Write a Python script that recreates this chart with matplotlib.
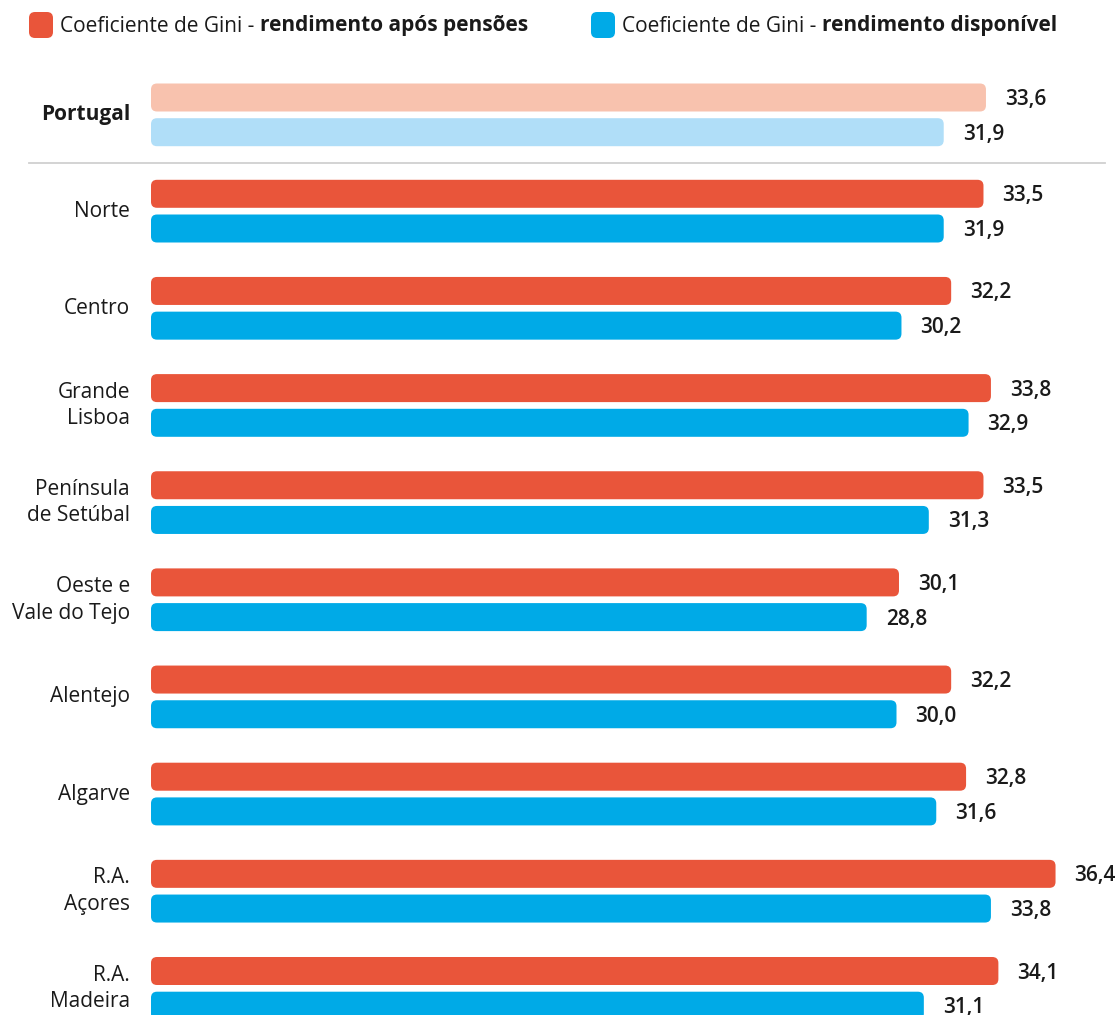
import numpy as np
import matplotlib
matplotlib.use("Agg")
import matplotlib.pyplot as plt
from matplotlib.patches import FancyBboxPatch

plt.rcParams['font.family'] = ['Open Sans', 'DejaVu Sans']

regions = ["Portugal", "Norte", "Centro", "Grande\nLisboa", "Península\nde Setúbal",
           "Oeste e\nVale do Tejo", "Alentejo", "Algarve", "R.A.\nAçores", "R.A.\nMadeira"]
apos_pensoes = [33.6, 33.5, 32.2, 33.8, 33.5, 30.1, 32.2, 32.8, 36.4, 34.1]
disponivel = [31.9, 31.9, 30.2, 32.9, 31.3, 28.8, 30.0, 31.6, 33.8, 31.1]
legend_labels = [("Coeficiente de Gini - ", "rendimento após pensões"),
                 ("Coeficiente de Gini - ", "rendimento disponível")]

RED, BLUE = "#E9553A", "#00AAE7"
RED_L, BLUE_L = "#F8C2AE", "#B0DEF8"
TXT = "#1a1a1a"

W, H = 1120, 1015
fig = plt.figure(figsize=(W / 100, H / 100), dpi=100)
ax = fig.add_axes([0, 0, 1, 1])

# x in data units, y in pixels (top = 0)
px_per_unit = 24.85
x0 = 151
ax.set_xlim(-x0 / px_per_unit, (W - x0) / px_per_unit)
ax.set_ylim(H, 0)
ax.axis('off')

bar_h = 28
offset = 34.7
centers = np.array([97.5] + [193.8 + 97.15 * i for i in range(len(regions) - 1)])
radius_px = 6
rs = radius_px / px_per_unit

def rbar(y, v, color):
    p = FancyBboxPatch((0, y - bar_h / 2), v, bar_h,
                       boxstyle=f"round,pad=0,rounding_size={rs}",
                       mutation_aspect=px_per_unit, fc=color, ec='none')
    ax.add_patch(p)

gap = 19 / px_per_unit
lab_dy = 2
for i, (name, a, d) in enumerate(zip(regions, apos_pensoes, disponivel)):
    c = centers[i]
    cr, cb = (RED_L, BLUE_L) if i == 0 else (RED, BLUE)
    rbar(c, a, cr)
    rbar(c + offset, d, cb)
    ax.text(a + gap, c + lab_dy, f"{a:.1f}".replace('.', ','), ha='left', va='center',
            fontsize=15, fontweight='semibold', color=TXT)
    ax.text(d + gap, c + offset + lab_dy, f"{d:.1f}".replace('.', ','), ha='left', va='center',
            fontsize=15, fontweight='semibold', color=TXT)
    ax.text(-21 / px_per_unit, c + offset / 2, name, ha='right', va='center',
            fontsize=15, fontweight='bold' if i == 0 else 'normal', color=TXT,
            linespacing=1.35)

# separator under Portugal
ax.plot([(29 - x0) / px_per_unit, (1105 - x0) / px_per_unit], [163, 163],
        color='#d0d0d0', lw=1.3)

# legend
fig.canvas.draw()
r = fig.canvas.get_renderer()
for (reg, bold), col, lx in zip(legend_labels, [RED, BLUE], [29, 591]):
    sq = FancyBboxPatch((lx / W, 1 - 38 / H), 24 / W, 26 / H,
                        boxstyle=f"round,pad=0,rounding_size={6 / W}",
                        mutation_aspect=W / H, transform=fig.transFigure,
                        fc=col, ec='none')
    fig.patches.append(sq)
    t = fig.text((lx + 31) / W, 1 - 26 / H, reg, ha='left', va='center',
                 fontsize=15, color=TXT)
    bb = t.get_window_extent(renderer=r)
    fig.text(bb.x1 / W, 1 - 26 / H, bold, ha='left', va='center',
             fontsize=15, fontweight='bold', color=TXT)

fig.savefig("out.png", dpi=100)
